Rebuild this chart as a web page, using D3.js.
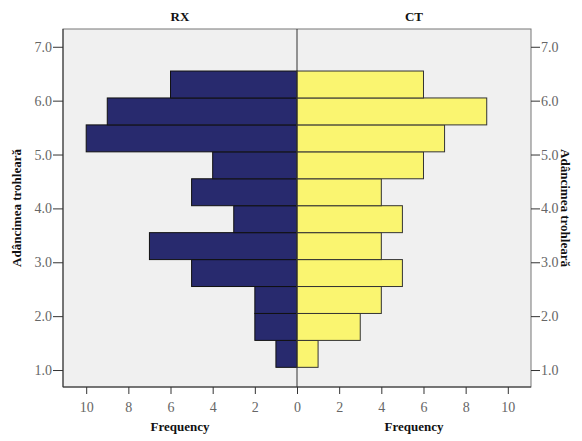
<!DOCTYPE html>
<html>
<head>
<meta charset="utf-8">
<script src="https://cdn.jsdelivr.net/npm/d3@7"></script>
<style>
  body { margin: 0; background: #fff; }
  text { font-family: "Liberation Serif", "DejaVu Serif", serif; }
</style>
</head>
<body>
<svg id="chart" width="582" height="441"></svg>
<script>
"use strict";

// centres des classes (largeur 0.5), du bas vers le haut
var binMids = [1.3, 1.8, 2.3, 2.8, 3.3, 3.8, 4.3, 4.8, 5.3, 5.8, 6.3]
var rxCounts = [1, 2, 2, 5, 7, 3, 5, 4, 10, 9, 6]
var ctCounts = [1, 3, 4, 5, 4, 5, 4, 6, 7, 9, 6]
var yTicks = [1, 2, 3, 4, 5, 6, 7]
var xTicks = [0, 2, 4, 6, 8, 10]
var binWidth = 0.5

var svg = d3.select("#chart")
var plotTop = 29, plotBottom = 387, plotLeft = 63, plotMid = 297, plotRight = 531

var y = d3.scaleLinear().domain([0.685, 7.33]).range([plotBottom, plotTop])
var xl = d3.scaleLinear().domain([0, 11.1]).range([plotMid, plotLeft])
var xr = d3.scaleLinear().domain([0, 11.1]).range([plotMid, plotRight])

var data = binMids.map(function(m, i) {
  return { lo: m - binWidth / 2, hi: m + binWidth / 2, rx: rxCounts[i], ct: ctCounts[i] }
})

// fond
svg.append("rect")
  .attr("x", plotLeft).attr("y", plotTop)
  .attr("width", plotRight - plotLeft).attr("height", plotBottom - plotTop)
  .attr("fill", "#f0f0f0")

// barres RX
svg.append("g").selectAll("rect")
  .data(data).enter().append("rect")
    .attr("x", function(d) { return xl(d.rx) })
    .attr("y", function(d) { return y(d.hi) })
    .attr("width", function(d) { return xl(0) - xl(d.rx) })
    .attr("height", function(d) { return y(d.lo) - y(d.hi) })
    .attr("fill", "#282a6e")
    .attr("stroke", "#111")
    .attr("stroke-width", 1)

// barres CT
svg.append("g").selectAll("rect")
  .data(data).enter().append("rect")
    .attr("x", xr(0))
    .attr("y", function(d) { return y(d.hi) })
    .attr("width", function(d) { return xr(d.ct) - xr(0) })
    .attr("height", function(d) { return y(d.lo) - y(d.hi) })
    .attr("fill", "#faf570")
    .attr("stroke", "#333")
    .attr("stroke-width", 1)

// cadre
svg.append("rect")
  .attr("x", plotLeft).attr("y", plotTop)
  .attr("width", plotRight - plotLeft).attr("height", plotBottom - plotTop)
  .attr("fill", "none")
  .attr("stroke", "#777")
svg.append("line")
  .attr("x1", plotLeft).attr("x2", plotRight).attr("y1", plotBottom).attr("y2", plotBottom)
  .attr("stroke", "#333")
svg.append("line")
  .attr("x1", plotLeft).attr("x2", plotLeft).attr("y1", plotTop).attr("y2", plotBottom)
  .attr("stroke", "#333")
svg.append("line")
  .attr("x1", plotMid).attr("x2", plotMid).attr("y1", plotTop).attr("y2", plotBottom)
  .attr("stroke", "#333")

function styleAxis(g) {
  g.select(".domain").remove()
  g.selectAll(".tick line").attr("stroke", "#333")
  g.selectAll(".tick text").attr("fill", "#666").style("font-size", "14px")
    .style("font-family", "Liberation Serif, serif")
}

// axes Y
svg.append("g").attr("transform", "translate(" + plotLeft + ",0)")
  .call(d3.axisLeft(y).tickValues(yTicks).tickFormat(d3.format(".1f")).tickSize(10).tickPadding(1))
  .call(styleAxis)
svg.append("g").attr("transform", "translate(" + plotRight + ",0)")
  .call(d3.axisRight(y).tickValues(yTicks).tickFormat(d3.format(".1f")).tickSize(9).tickPadding(1))
  .call(styleAxis)

// axes X
svg.append("g").attr("transform", "translate(0," + plotBottom + ")")
  .call(d3.axisBottom(xl).tickValues(xTicks).tickSize(7).tickPadding(8))
  .call(styleAxis)
svg.append("g").attr("transform", "translate(0," + plotBottom + ")")
  .call(d3.axisBottom(xr).tickValues(xTicks.slice(1)).tickSize(7).tickPadding(8))
  .call(styleAxis)

// titres
function boldText(x, yy, txt, rot) {
  var t = svg.append("text")
    .attr("text-anchor", "middle")
    .attr("font-weight", "bold")
    .style("font-size", "13px")
    .attr("fill", "#111")
    .text(txt)
  if (rot) {
    t.attr("transform", "translate(" + x + "," + yy + ") rotate(" + rot + ")")
  } else {
    t.attr("x", x).attr("y", yy)
  }
}
boldText((plotLeft + plotMid) / 2, 21, "RX")
boldText((plotMid + plotRight) / 2, 21, "CT")
boldText((plotLeft + plotMid) / 2, 431, "Frequency")
boldText((plotMid + plotRight) / 2, 431, "Frequency")
boldText(21, 208, "Adâncimea trohleară", -90)
boldText(561, 208, "Adâncimea trohleară", 90)
</script>
</body>
</html>
